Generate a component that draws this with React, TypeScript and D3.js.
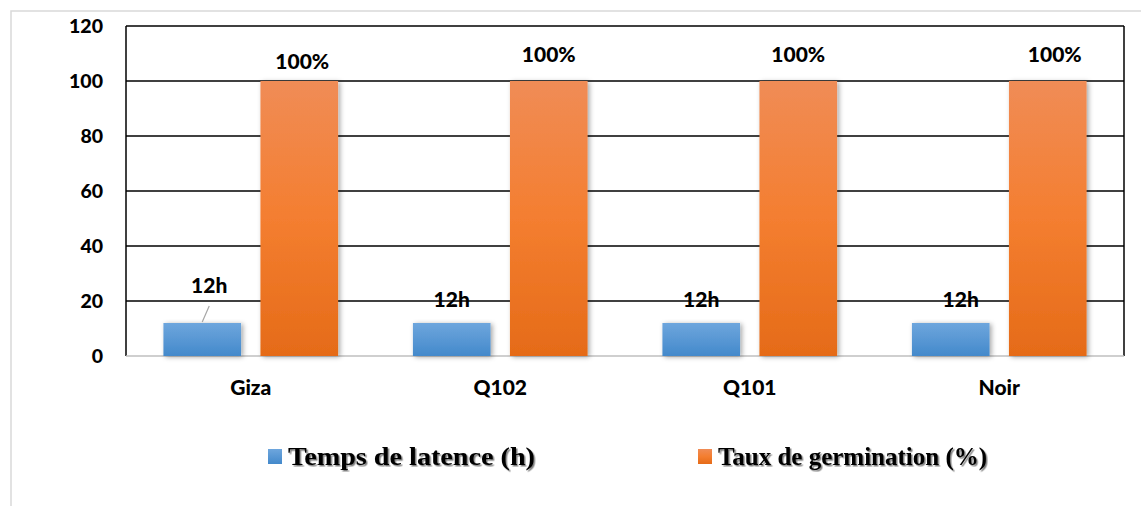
import React from "react";
import * as d3 from "d3";

// Germination data per quinoa variety
const varieties = ["Giza", "Q102", "Q101", "Noir"];
const latencyHours = [12, 12, 12, 12];
const germinationRate = [100, 100, 100, 100];
const latencyLabels = ["12h", "12h", "12h", "12h"];
const rateLabels = ["100%", "100%", "100%", "100%"];
const seriesNames = ["Temps de latence (h)", "Taux de germination (%)"];
const yTicks = [0, 20, 40, 60, 80, 100, 120];

// Manual label nudges (dx, dy) as placed in the layout
const latencyLabelShift = [[7, -14], [0, 0], [0, 0], [10, 0]];
const rateLabelShift = [[3, 7], [0, 0], [0, 0], [7, 0]];

const W = 1141;
const H = 506;
const plot = { left: 126, right: 1124, top: 26, bottom: 356 };
const sansFont = "Lato, 'Open Sans', sans-serif";
const serifFont = "'Liberation Serif', 'Times New Roman', serif";
const labelWeight = 900;

export default function App() {
  const x0 = d3
    .scaleBand<string>()
    .domain(varieties)
    .range([plot.left, plot.right])
    .paddingInner(0.3)
    .paddingOuter(0.15);
  const x1 = d3
    .scaleBand<string>()
    .domain(["lat", "rate"])
    .range([0, x0.bandwidth()])
    .paddingInner(0.2);
  const y = d3.scaleLinear().domain([0, 120]).range([plot.bottom, plot.top]);

  const series = [
    { key: "lat", values: latencyHours, labels: latencyLabels, shift: latencyLabelShift, fill: "url(#gBlue)", gap: 16 },
    { key: "rate", values: germinationRate, labels: rateLabels, shift: rateLabelShift, fill: "url(#gOrange)", gap: 19 },
  ];

  const legend = [
    { x: 268, textWidth: 247, fill: "url(#gBlue)" },
    { x: 698, textWidth: 269, fill: "url(#gOrange)" },
  ];

  return (
    <div style={{ position: "fixed", left: 0, top: 0 }}>
      <svg width={W} height={H} style={{ display: "block", background: "#fff" }}>
        <defs>
          <linearGradient id="gBlue" x1="0" y1="0" x2="0" y2="1">
            <stop offset="0%" stopColor="#6EA6DD" />
            <stop offset="100%" stopColor="#4389CB" />
          </linearGradient>
          <linearGradient id="gOrange" x1="0" y1="0" x2="0" y2="1">
            <stop offset="0%" stopColor="#F08C56" />
            <stop offset="50%" stopColor="#F47E30" />
            <stop offset="100%" stopColor="#E56B18" />
          </linearGradient>
          <filter id="barShadow" x="-20%" y="-10%" width="150%" height="130%">
            <feDropShadow dx="2" dy="1" stdDeviation="2.5" floodColor="#000" floodOpacity="0.35" />
          </filter>
          <filter id="textShadow" x="-5%" y="-20%" width="110%" height="150%">
            <feDropShadow dx="1.5" dy="1.5" stdDeviation="0.6" floodColor="#000" floodOpacity="0.5" />
          </filter>
        </defs>

        {/* chart frame */}
        <path d={`M11,${H} V11 H${W}`} fill="none" stroke="#D9D9D9" strokeWidth={1.5} />

        {/* horizontal gridlines */}
        {yTicks.slice(1).map((t) => (
          <line key={t} x1={plot.left} x2={plot.right} y1={y(t)} y2={y(t)} stroke="#000" strokeWidth={1.5} />
        ))}
        <line x1={plot.left} x2={plot.left} y1={plot.top} y2={plot.bottom} stroke="#000" strokeWidth={1.5} />
        <line x1={plot.right} x2={plot.right} y1={plot.top} y2={plot.bottom} stroke="#000" strokeWidth={1.5} />
        <line x1={plot.left} x2={plot.right} y1={y(0)} y2={y(0)} stroke="#BFBFBF" strokeWidth={1.5} />

        {/* y tick labels */}
        {yTicks.map((t) => (
          <text key={t} x={103} y={y(t) + 7} textAnchor="end" fontFamily={sansFont} fontWeight={labelWeight} fontSize={19.5} fill="#000">
            {t}
          </text>
        ))}

        {/* bars */}
        {series.map((s) =>
          varieties.map((v, i) => (
            <rect
              key={s.key + v}
              x={(x0(v) ?? 0) + (x1(s.key) ?? 0)}
              y={y(s.values[i])}
              width={x1.bandwidth()}
              height={y(0) - y(s.values[i])}
              fill={s.fill}
              filter="url(#barShadow)"
            />
          ))
        )}

        {/* leader line for the moved Giza latency label */}
        {(() => {
          const bx = (x0(varieties[0]) ?? 0) + (x1("lat") ?? 0) + x1.bandwidth() / 2;
          return (
            <line x1={bx + 7} y1={y(latencyHours[0]) - 17} x2={bx} y2={y(latencyHours[0]) - 1} stroke="#A6A6A6" strokeWidth={1.2} />
          );
        })()}

        {/* data labels */}
        {series.map((s) =>
          varieties.map((v, i) => {
            const cx = (x0(v) ?? 0) + (x1(s.key) ?? 0) + x1.bandwidth() / 2;
            return (
              <text
                key={"l" + s.key + v}
                x={cx + s.shift[i][0]}
                y={y(s.values[i]) - s.gap + s.shift[i][1]}
                textAnchor="middle"
                fontFamily={sansFont}
                fontWeight={labelWeight}
                fontSize={21}
                fill="#000"
              >
                {s.labels[i]}
              </text>
            );
          })
        )}

        {/* category labels */}
        {varieties.map((v) => (
          <text
            key={"c" + v}
            x={(x0(v) ?? 0) + x0.bandwidth() / 2}
            y={395}
            textAnchor="middle"
            fontFamily={sansFont}
            fontWeight={labelWeight}
            fontSize={21}
            fill="#000"
          >
            {v}
          </text>
        ))}

        {/* legend */}
        {seriesNames.map((name, i) => (
          <g key={name}>
            <rect x={legend[i].x} y={449} width={14} height={15} fill={legend[i].fill} />
            <text
              x={legend[i].x + 20}
              y={465}
              fontFamily={serifFont}
              fontWeight={700}
              fontSize={26}
              textLength={legend[i].textWidth}
              lengthAdjust="spacingAndGlyphs"
              fill="#000"
              filter="url(#textShadow)"
            >
              {name}
            </text>
          </g>
        ))}
      </svg>
    </div>
  );
}
